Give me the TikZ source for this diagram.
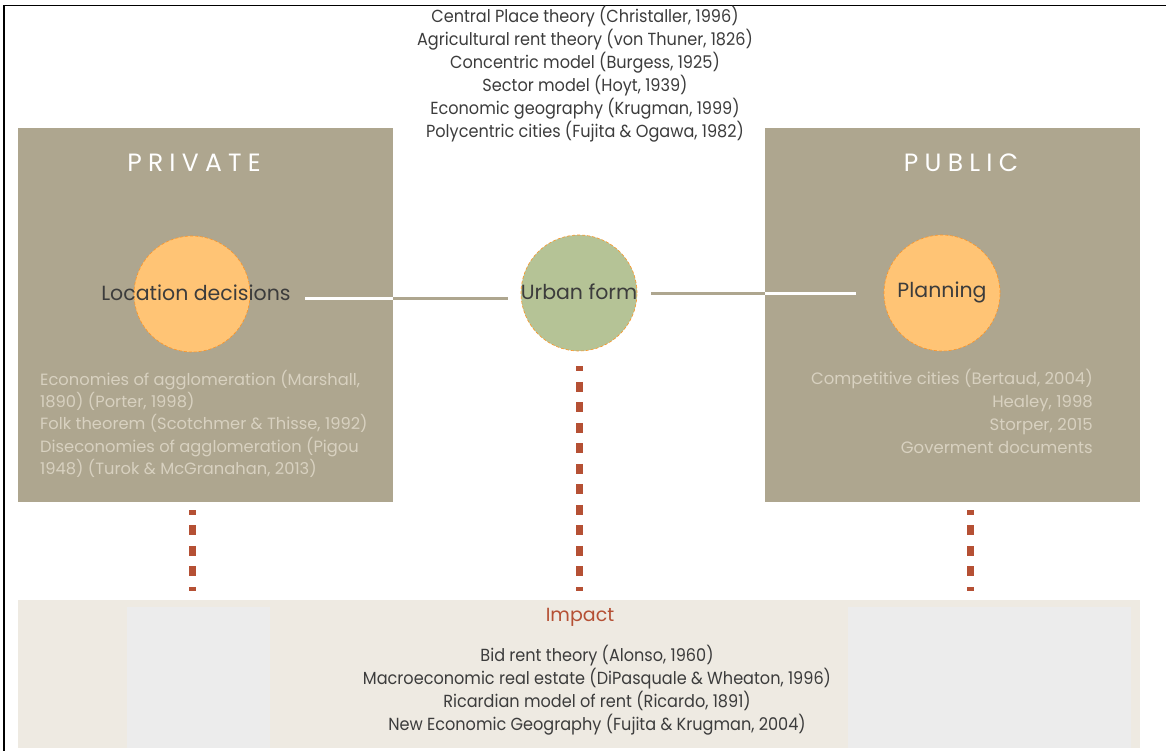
\documentclass[tikz,border=0pt]{standalone}
\usepackage{fontspec}
\setmainfont{Poppins}
\newfontfamily\listfont[FakeStretch=0.92]{Poppins}
\usetikzlibrary{positioning}

\definecolor{boxgray}{RGB}{174,166,143}
\definecolor{paleback}{RGB}{238,234,226}
\definecolor{innergray}{RGB}{236,236,236}
\definecolor{dotred}{RGB}{181,80,52}
\definecolor{peach}{RGB}{255,196,117}
\definecolor{sage}{RGB}{181,195,150}
\definecolor{reftext}{RGB}{216,209,192}
\definecolor{darktext}{RGB}{60,60,60}

\tikzset{
	panel/.style={fill=boxgray, inner sep=0pt, anchor=north west},
	dotcircle/.style={circle, inner sep=0pt, minimum size=116pt, densely dashed, line width=0.6pt},
	wlink/.style={line width=3pt, white},
	glink/.style={line width=3pt, boxgray},
	dotline/.style={line width=7pt, dotred, dash pattern=on 10pt off 10.5pt},
	paneltitle/.style={text=white, font=\fontsize{25}{25}\selectfont\addfontfeatures{LetterSpace=25}},
	circletext/.style={text=darktext, font=\fontsize{20.5}{20.5}\selectfont},
}

\begin{document}
\begin{tikzpicture}[x=1pt, y=-1pt]
		%%%%% START %%%%%
		\useasboundingbox (0,0) rectangle (1166,751);
		
		% frame
		\draw[line width=1.5pt] (4,751) -- (4,5.5) -- (1166,5.5);
		
		% side panels
		\node[panel, minimum width=375pt, minimum height=374pt] (private) at (18,128) {};
		\node[panel, minimum width=375pt, minimum height=374pt] (public) at (765,128) {};
		
		% impact panel
		\node[panel, fill=paleback, minimum width=1122pt, minimum height=148pt] (bottom) at (18,600) {};
		\fill[innergray] (127,607) rectangle (270,748);
		\fill[innergray] (848,607) rectangle (1131,748);
		
		\node[paneltitle] (privtitle) at (194,163) {PRIVATE};
		\node[paneltitle] (pubtitle) at (961,163) {PUBLIC};
		
		% circles
		\node[dotcircle, fill=peach, draw=orange!70!peach] (locdot) at (192,294) {};
		\node[dotcircle, fill=sage, draw=orange!70!peach] (urban) at (579,293) {};
		\node[dotcircle, fill=peach, draw=orange!70!peach] (plan) at (942,293) {};
		
		\node[circletext] (loc) at (196,293) {Location decisions};
		\node[circletext] (urbantext) at (579,292) {Urban form};
		\node[circletext] (plantext) at (942,292) {Planning};
		
		% links
		\draw[wlink] ([xshift=11pt,yshift=-5pt]loc.east) -- ([yshift=-5pt]private.east |- loc.east);
		\draw[glink] ([yshift=-5pt]private.east |- loc.east) -- ([xshift=-13pt,yshift=-5pt]urban.west |- loc.east);
		\draw[glink] ([xshift=14pt]urban.east) -- (public.west |- urban.east);
		\draw[wlink] (public.west |- urban.east) -- ([xshift=-28pt]plan.west);
		
		% dotted drops
		\draw[dotline, dash phase=5.5pt] ([yshift=-8pt]private.south -| locdot) -- ([yshift=9pt]bottom.north -| locdot);
		\draw[dotline, dash phase=5pt] ([yshift=-15pt]urban.south) -- ([yshift=9pt]bottom.north -| urban);
		\draw[dotline, dash phase=5.5pt] ([xshift=28pt,yshift=-8pt]private.south -| plan) -- ([xshift=28pt,yshift=9pt]bottom.north -| plan);
		
		% texts
		\node[align=center, text=darktext, font=\listfont\fontsize{17.5}{23}\selectfont] (theories) at (585,74) {Central Place theory (Christaller, 1996)\\Agricultural rent theory (von Thuner, 1826)\\Concentric model (Burgess, 1925)\\Sector model (Hoyt, 1939)\\Economic geography (Krugman, 1999)\\Polycentric cities (Fujita \& Ogawa, 1982)};
		
		\node[anchor=north west, align=left, inner sep=0pt, text=reftext, font=\fontsize{16.3}{22.2}\selectfont] (privlist) at (40,370) {Economies of agglomeration (Marshall,\\1890) (Porter, 1998)\\Folk theorem (Scotchmer \& Thisse, 1992)\\Diseconomies of agglomeration (Pigou\\1948) (Turok \& McGranahan, 2013)};
		
		\node[anchor=north east, align=right, inner sep=0pt, text=reftext, font=\fontsize{16.5}{23}\selectfont] (publist) at (1093,369) {Competitive cities (Bertaud, 2004)\\Healey, 1998\\Storper, 2015\\Goverment documents};
		
		\node[text=dotred, font=\fontsize{19}{19}\selectfont] (impact) at (580,617) {Impact};
		
		\node[align=center, text=darktext, font=\listfont\fontsize{17.5}{23}\selectfont] (rents) at (597,690) {Bid rent theory (Alonso, 1960)\\Macroeconomic real estate (DiPasquale \& Wheaton, 1996)\\Ricardian model of rent (Ricardo, 1891)\\New Economic Geography (Fujita \& Krugman, 2004)};
		
		%%%%% END %%%%%
\end{tikzpicture}
\end{document}
